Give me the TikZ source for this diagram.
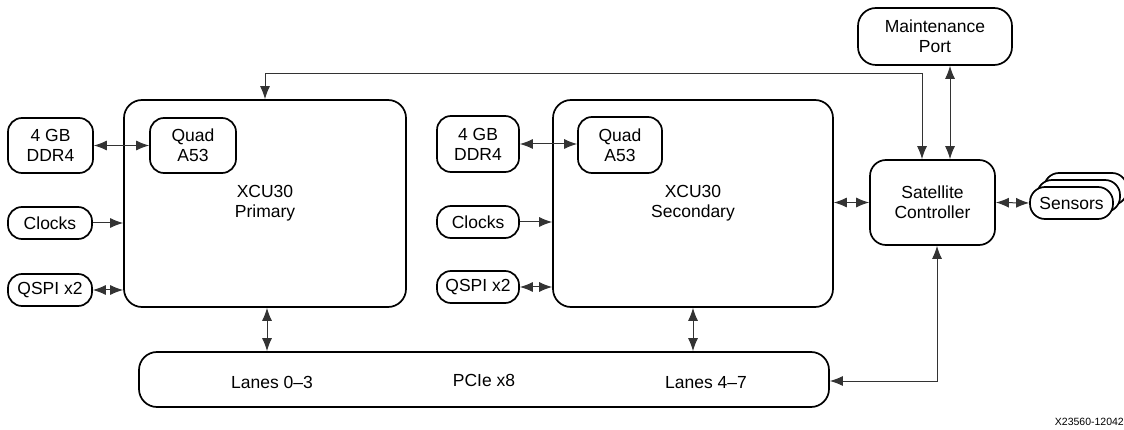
\documentclass[tikz,border=0pt]{standalone}
\usepackage{fontspec}
\setmainfont{Liberation Sans}
\usepackage{tikz}
\usetikzlibrary{positioning, shapes}
\usetikzlibrary{arrows.meta}

\begin{document}
\begin{tikzpicture}[x=1pt,y=-1pt]
            \tikzset{box/.style = {draw, line width=1.7pt, rounded corners=14pt, align=center, inner sep=0pt, font=\fontsize{17.5}{20}\selectfont}}
            \tikzset{bigbox/.style = {box, rounded corners=18pt}}
            \tikzset{link/.style = {line width=1pt, draw=black!80}}
            \tikzset{edge/.style = {link, -{Latex[length=13pt,width=10pt]}}}
            \tikzset{dedge/.style = {link, {Latex[length=13pt,width=10pt]}-{Latex[length=13pt,width=10pt]}}}

            \useasboundingbox (0,0) rectangle (1124,430);

            % primary device
            \node[bigbox, minimum width=282pt, minimum height=207pt] (prim) at (265, 203.5) {XCU30\\Primary};
            \node[box, minimum width=86pt, minimum height=55pt] (primq) at (193, 145.5) {Quad\\A53};
            \node[box, minimum width=85pt, minimum height=55pt] (pddr) at (50.5, 145.5) {4 GB\\DDR4};
            \node[box, minimum width=84pt, minimum height=32pt] (pclk) at (50, 223) {Clocks};
            \node[box, minimum width=84pt, minimum height=32pt] (pqspi) at (50, 290) {QSPI x2};

            % secondary device
            \node[bigbox, minimum width=280pt, minimum height=207pt] (sec) at (693, 203.5) {XCU30\\Secondary};
            \node[box, minimum width=84pt, minimum height=56pt] (secq) at (620, 145) {Quad\\A53};
            \node[box, minimum width=82pt, minimum height=56pt] (sddr) at (478, 144) {4 GB\\DDR4};
            \node[box, minimum width=82pt, minimum height=32pt] (sclk) at (478, 222) {Clocks};
            \node[box, minimum width=82pt, minimum height=32pt] (sqspi) at (478, 287) {QSPI x2};

            % pcie bus
            \node[bigbox, minimum width=690pt, minimum height=55pt] (pcie) at (484, 379.5) {};
            \node[font=\fontsize{17.5}{20}\selectfont] (lanesa) at (272, 382) {Lanes 0--3};
            \node[font=\fontsize{17.5}{20}\selectfont] (pcielbl) at (484, 380) {PCIe x8};
            \node[font=\fontsize{17.5}{20}\selectfont] (lanesb) at (706, 383) {Lanes 4--7};

            % controller side
            \node[box, rounded corners=16pt, minimum width=125pt, minimum height=85pt] (sat) at (932.5, 202.5) {Satellite\\Controller};
            \node[bigbox, minimum width=154pt, minimum height=57pt] (maint) at (935, 36.5) {Maintenance\\Port};
            \node[box, fill=white, rounded corners=15pt, minimum width=83pt, minimum height=32pt] (sens3) at (1085.5, 189) {};
            \node[box, fill=white, rounded corners=15pt, minimum width=83pt, minimum height=32pt] (sens2) at (1078.5, 196) {};
            \node[box, fill=white, rounded corners=15pt, minimum width=83pt, minimum height=32pt] (sens) at (1071.5, 203) {Sensors};

            \node[anchor=east, inner sep=0pt, font=\fontsize{10.5}{12}\selectfont] (fig) at (1124, 422) {X23560-12042};

            % links
            \coordinate (top) at (922, 74);
            \coordinate (mtx) at (950, 0);
            \coordinate (bot) at (937, 381);

            \draw[dedge] (pddr.east) -- (primq.west);
            \draw[edge] (pclk.east) -- (prim.west |- pclk.east);
            \draw[dedge] (pqspi.east) -- (prim.west |- pqspi.east);
            \draw[dedge] (sddr.east) -- (secq.west |- sddr.east);
            \draw[edge] (sclk.east) -- (sec.west |- sclk.east);
            \draw[dedge] (sqspi.east) -- (sec.west |- sqspi.east);

            \draw[dedge] ([xshift=2pt]prim.south) -- ([xshift=2pt]prim.south |- pcie.north);
            \draw[dedge] (sec.south) -- (sec.south |- pcie.north);

            \draw[dedge] (sec.east |- sat.west) -- (sat.west);
            \draw[dedge] (sat.east) -- (sens.west);
            \draw[dedge] (maint.south -| mtx) -- (sat.north -| mtx);
            \draw[dedge] (prim.north) |- (top) -- (sat.north -| top);
            \draw[dedge] (sat.south -| bot) -- (bot) -- (pcie.east |- bot);
        \end{tikzpicture}
\end{document}
